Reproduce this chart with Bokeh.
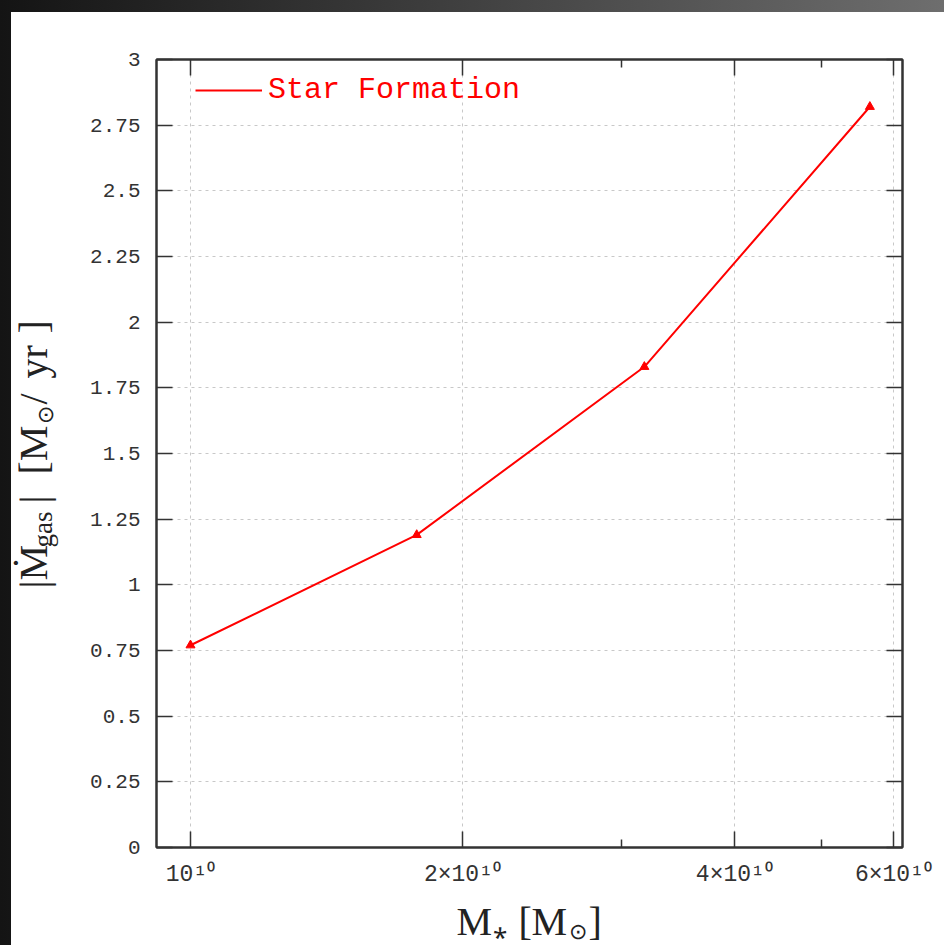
import math
from bokeh.plotting import figure
from bokeh.layouts import row, column
from bokeh.models import (Range1d, FixedTicker, LogAxis, LinearAxis,
                          CustomJSTickFormatter, Label, Legend, LegendItem)
from bokeh.embed import file_html
from bokeh.resources import INLINE

# ---------------- data ----------------
stellar_mass = [1.0e10, 1.78e10, 3.18e10, 5.65e10]
mdot_gas = [0.77, 1.19, 1.83, 2.82]
series_name = "Star Formation"

x_major = [1e10, 2e10, 4e10, 6e10]
x_major_labels = ["10¹⁰", "2×10¹⁰", "4×10¹⁰", "6×10¹⁰"]
x_minor = [3e10, 5e10]
y_major = [0, 0.25, 0.5, 0.75, 1, 1.25, 1.5, 1.75, 2, 2.25, 2.5, 2.75, 3]
y_major_labels = ["0", "0.25", "0.5", "0.75", "1", "1.25", "1.5", "1.75",
                  "2", "2.25", "2.5", "2.75", "3"]

# axis titles, split into pieces so sub-scripts can be set smaller / lower
x_label_parts = ["M", "⁎", "[", "M", "⊙", "]"]
y_label_parts = ["|Ṁ", "gas", "|", "[M", "⊙", "/", "yr", "]"]

X_MIN, X_MAX = 9.17e9, 6.14e10
Y_MIN, Y_MAX = 0.0, 3.0

# ---------------- layout / style ----------------
FRAME_W, FRAME_H = 746, 788
YLAB_W = 60
P_LEFT, P_RIGHT, P_TOP, P_BOTTOM = 85, 42, 47, 50
P_H = P_TOP + FRAME_H + P_BOTTOM
XLAB_H = 48
TOTAL_W = YLAB_W + P_LEFT + FRAME_W + P_RIGHT

RED = "#ff0000"
INK = "#333333"
TEXT_INK = "#222222"
TICK_FONT = "Liberation Mono"
LABEL_FONT = "Liberation Serif"

p = figure(frame_width=FRAME_W, frame_height=FRAME_H,
           x_axis_type="log",
           x_range=Range1d(X_MIN, X_MAX), y_range=Range1d(Y_MIN, Y_MAX),
           output_backend="svg", toolbar_location=None,
           min_border_left=P_LEFT, min_border_right=P_RIGHT,
           min_border_top=P_TOP, min_border_bottom=P_BOTTOM)
p.background_fill_color = "white"
p.border_fill_color = "white"
p.outline_line_color = INK
p.outline_line_width = 2

fmt_code = """
let best = -1, bd = Infinity;
for (let i = 0; i < vals.length; i++) {
  const d = Math.abs(vals[i] - tick);
  if (d < bd) { bd = d; best = i; }
}
return (best >= 0 && bd <= 1e-6 * Math.abs(vals[best]) + 1e-9) ? labs[best] : "";
"""
x_ticker = FixedTicker(ticks=x_major, minor_ticks=x_minor)
y_ticker = FixedTicker(ticks=y_major)
x_fmt = CustomJSTickFormatter(args=dict(vals=x_major, labs=x_major_labels), code=fmt_code)
y_fmt = CustomJSTickFormatter(args=dict(vals=y_major, labs=y_major_labels), code=fmt_code)
blank_fmt = CustomJSTickFormatter(code="return '';")


def style_axis(ax, labels=True):
    ax.axis_line_color = INK
    ax.axis_line_width = 2
    ax.major_tick_line_color = INK
    ax.major_tick_line_width = 1.5
    ax.major_tick_in = 16
    ax.major_tick_out = 0
    ax.minor_tick_line_color = INK
    ax.minor_tick_line_width = 1.5
    ax.minor_tick_in = 8
    ax.minor_tick_out = 0
    ax.major_label_text_font = TICK_FONT
    ax.major_label_text_font_size = "21px"
    ax.major_label_text_color = INK
    if not labels:
        ax.major_label_standoff = 0


xa = p.xaxis[0]
xa.ticker = x_ticker
xa.formatter = x_fmt
style_axis(xa)
xa.major_label_text_font_size = "23px"
xa.major_label_standoff = 14

ya = p.yaxis[0]
ya.ticker = y_ticker
ya.formatter = y_fmt
style_axis(ya)
ya.minor_tick_line_color = None
ya.major_label_standoff = 16

top = LogAxis(ticker=x_ticker, formatter=blank_fmt)
style_axis(top, labels=False)
p.add_layout(top, "above")
right = LinearAxis(ticker=y_ticker, formatter=blank_fmt)
style_axis(right, labels=False)
right.minor_tick_line_color = None
p.add_layout(right, "right")

for g in (p.xgrid[0], p.ygrid[0]):
    g.grid_line_color = "#c8c8c8"
    g.grid_line_dash = "3 4"
    g.grid_line_width = 1
p.xgrid[0].ticker = x_ticker
p.ygrid[0].ticker = y_ticker

line_r = p.line(stellar_mass, mdot_gas, line_color=RED, line_width=2)
p.scatter(stellar_mass, mdot_gas, marker="triangle", size=9,
          fill_color=RED, line_color=RED)

legend = Legend(items=[LegendItem(label=series_name, renderers=[line_r])],
                location=(39, 740), padding=0, margin=0, spacing=0,
                glyph_width=67, glyph_height=30, label_standoff=6,
                label_text_font=TICK_FONT, label_text_font_size="30px",
                label_text_color=RED, border_line_color=None,
                background_fill_alpha=0)
p.add_layout(legend)


def text_panel(w, h, left, right_, top_, bottom):
    fw, fh = w - left - right_, h - top_ - bottom
    f = figure(width=w, height=h,
               x_range=Range1d(0, fw), y_range=Range1d(0, fh),
               x_axis_location=None, y_axis_location=None,
               output_backend="svg", toolbar_location=None,
               min_border_left=left, min_border_right=right_,
               min_border_top=top_, min_border_bottom=bottom)
    f.grid.visible = False
    f.outline_line_color = None
    f.background_fill_color = "white"
    f.border_fill_color = "white"
    return f


# Bokeh anchors "alphabetic" text about 0.29 em above the real baseline
BASE_SHIFT = 0.29

# rotated y title (frame shares p's top/bottom borders);
# (baseline x, start y, font px) in panel-frame pixels
ylab = text_panel(YLAB_W, P_H, 0, 0, P_TOP, P_BOTTOM)
y_piece_pos = [(34, 259, 40), (39, 300, 27), (34, 344, 40), (34, 373, 40),
               (40, 424, 22), (34, 443, 40), (34, 469, 40), (34, 514, 40)]
for txt, (bx, ly, fs) in zip(y_label_parts, y_piece_pos):
    ylab.add_layout(Label(x=bx - BASE_SHIFT * fs, y=ly, text=txt,
                          angle=math.pi / 2,
                          text_align="left", text_baseline="alphabetic",
                          text_font=LABEL_FONT, text_font_size=f"{fs}px",
                          text_color=TEXT_INK))

# x title (frame shares p's left/right borders); (start x, baseline y, font px)
xlab = text_panel(TOTAL_W, XLAB_H, YLAB_W + P_LEFT, P_RIGHT, 0, 0)
x_piece_pos = [(300, 12, 40), (336, 12, 26), (362, 12, 40), (375, 12, 40),
               (412, 8, 22), (432, 12, 40)]
for txt, (lx, by, fs) in zip(x_label_parts, x_piece_pos):
    xlab.add_layout(Label(x=lx, y=by + BASE_SHIFT * fs, text=txt,
                          text_align="left", text_baseline="alphabetic",
                          text_font=LABEL_FONT, text_font_size=f"{fs}px",
                          text_color=TEXT_INK))

layout = column(row(ylab, p, spacing=0), xlab, spacing=0)

html = file_html(layout, INLINE)
html = html.replace(
    "</head>",
    "<style>html{overflow:hidden !important;margin:0 !important;padding:0 !important;"
    "background:linear-gradient(to right,#141414,#6e6e6e) !important;}"
    "body{overflow:hidden !important;margin:12px 0 0 11px !important;"
    "padding:0 !important;background:#ffffff !important;}"
    "</style></head>", 1)
open("out.html", "w").write(html)
